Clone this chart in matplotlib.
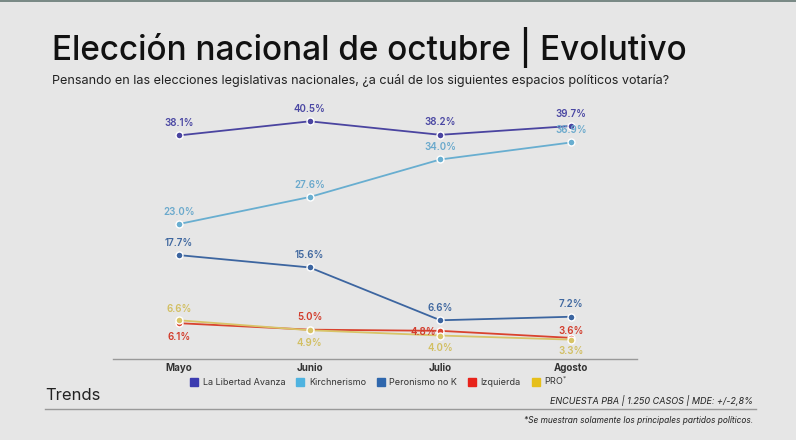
import numpy as np
import matplotlib.pyplot as plt
from matplotlib.patches import Rectangle

# Datos (porcentaje de intención de voto)
meses = ["Mayo", "Junio", "Julio", "Agosto"]
lla = [38.1, 40.5, 38.2, 39.7]
kirchnerismo = [23.0, 27.6, 34.0, 36.9]
peronismo_no_k = [17.7, 15.6, 6.6, 7.2]
izquierda = [6.1, 5.0, 4.8, 3.6]
pro = [6.6, 4.9, 4.0, 3.3]

nombres = ["La Libertad Avanza", "Kirchnerismo", "Peronismo no K", "Izquierda", "PRO$^{*}$"]
colores_leyenda = ["#3b3bb0", "#4fb3e0", "#2f67ad", "#e8231b", "#e6bf1a"]
colores_linea = ["#4a44a0", "#68aed0", "#3c65a0", "#d9432f", "#d8c468"]
colores_texto = ["#4a47a3", "#6aa9cc", "#3f679f", "#d23b2b", "#d2bf62"]

# posicion de etiqueta: (dx, dy) en puntos
offsets = [
    [(0, 9), (0, 9), (0, 9), (0, 9)],
    [(0, 9), (0, 9), (0, 9), (0, 9)],
    [(0, 9), (0, 9), (0, 9), (0, 9)],
    [(0, -10), (0, 9), (-12, -1), (0, 5)],
    [(0, 8), (0, -9), (0, -9), (0, -8.5)],
]

BG = "#e6e6e6"
plt.rcParams["font.family"] = ["Inter", "DejaVu Sans"]

fig = plt.figure(figsize=(7.96, 4.40), dpi=100, facecolor=BG)
ax = fig.add_axes([113 / 796, 81 / 440, 524 / 796, 250 / 440], facecolor=BG)

x = np.arange(len(meses))
series = [lla, kirchnerismo, peronismo_no_k, izquierda, pro]
for i in range(len(series) - 1, -1, -1):
    vals = series[i]
    ax.plot(x, vals, color=colores_linea[i], lw=1.3, zorder=3 + i,
            marker="o", ms=5, mfc=colores_linea[i], mec="white", mew=1.0)
    for j, v in enumerate(vals):
        ax.annotate(f"{v:.1f}%", (x[j], v), xytext=offsets[i][j],
                    textcoords="offset points", ha="center", va="center",
                    fontsize=7, fontweight="semibold", color=colores_texto[i],
                    zorder=10)

ax.set_xlim(-0.505, 3.505)
ax.set_ylim(0, 42.6)
for s in ["top", "right", "left"]:
    ax.spines[s].set_visible(False)
ax.spines["bottom"].set_color("#999999")
ax.spines["bottom"].set_linewidth(1)
ax.set_yticks([])
ax.set_xticks(x)
ax.set_xticklabels(meses, fontsize=7, fontweight="bold", color="#333333")
ax.tick_params(axis="x", length=0, pad=3)

# Textos
fig.text(52 / 796, 1 - 47 / 440, "Elección nacional de octubre | Evolutivo",
         fontsize=24, fontweight="medium", color="#111111", va="center", ha="left")
fig.text(52 / 796, 1 - 80 / 440,
         "Pensando en las elecciones legislativas nacionales, ¿a cuál de los siguientes espacios políticos votaría?",
         fontsize=9.1, color="#222222", va="center", ha="left")

# Leyenda
handles = [Rectangle((0, 0), 1, 1, color=c) for c in colores_leyenda]
fig.legend(handles, nombres, loc="center", bbox_to_anchor=(379 / 796, 1 - 381 / 440),
           ncol=5, frameon=False, fontsize=6.5, handlelength=0.9, handleheight=0.9,
           handletextpad=0.5, columnspacing=1.2, labelcolor="#333333")

fig.text(45 / 796, 1 - 395 / 440, "Trends", fontsize=12, color="#222222", va="center", ha="left")
fig.text(753 / 796, 1 - 400 / 440, "ENCUESTA PBA | 1.250 CASOS | MDE: +/-2,8%",
         fontsize=6.5, style="italic", color="#222222", va="center", ha="right")
fig.add_artist(plt.Line2D([45 / 796, 756 / 796], [1 - 409 / 440, 1 - 409 / 440],
                          color="#999999", lw=1))
fig.text(753 / 796, 1 - 420 / 440, "*Se muestran solamente los principales partidos políticos.",
         fontsize=6, style="italic", color="#222222", va="center", ha="right")

# franja superior
fig.add_artist(Rectangle((0, 1 - 2 / 440), 1, 2 / 440, transform=fig.transFigure,
                         color="#7a8a86", lw=0))

fig.savefig("out.png", dpi=100, facecolor=BG)
